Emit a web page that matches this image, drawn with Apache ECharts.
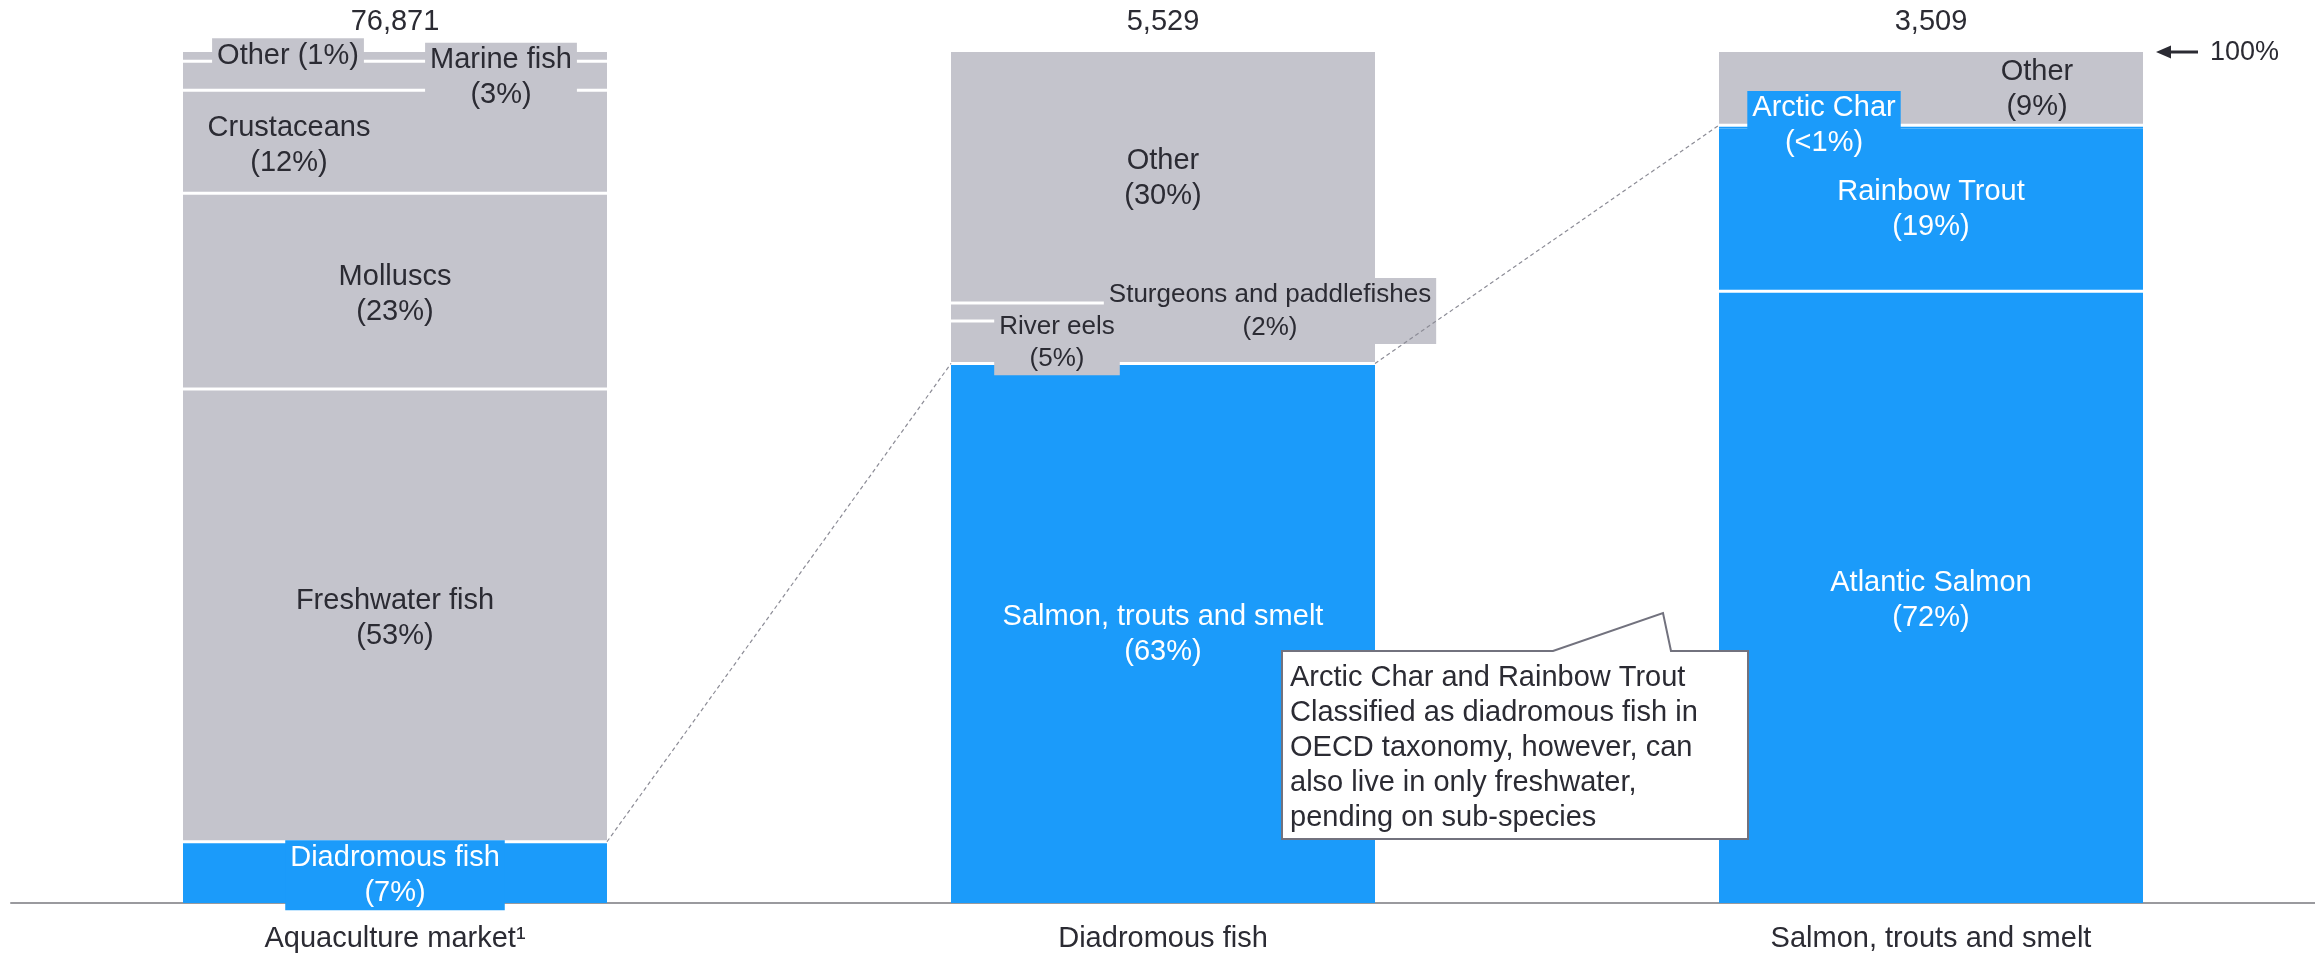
<!DOCTYPE html>
<html>
<head>
<meta charset="utf-8">
<script src="https://cdn.jsdelivr.net/npm/echarts@6/dist/echarts.min.js"></script>
<style>
  html, body { margin: 0; padding: 0; background: #ffffff; }
  #main { width: 2315px; height: 956px; }
</style>
</head>
<body>
<div id="main"></div>
<script>
// ---------------- DATA ----------------
const categories = ['Aquaculture market\u00B9', 'Diadromous fish', 'Salmon, trouts and smelt'];
const totals = ['76,871', '5,529', '3,509'];

// bar 1: aquaculture market (bottom to top)
const aquacultureNames  = ['Diadromous fish', 'Freshwater fish', 'Molluscs', 'Crustaceans', 'Marine fish', 'Other'];
const aquacultureShares = [7.2, 53.2, 23.0, 12.1, 3.4, 1.1];
const aquacultureLabels = ['7%', '53%', '23%', '12%', '3%', '1%'];
const aquacultureHighlight = [true, false, false, false, false, false];

// bar 2: diadromous fish (bottom to top)
const diadromousNames  = ['Salmon, trouts and smelt', 'River eels', 'Sturgeons and paddlefishes', 'Other'];
const diadromousShares = [63.4, 5.0, 2.1, 29.5];
const diadromousLabels = ['63%', '5%', '2%', '30%'];
const diadromousHighlight = [true, false, false, false];

// bar 3: salmon, trouts and smelt (bottom to top)
const salmonidNames  = ['Atlantic Salmon', 'Rainbow Trout', 'Arctic Char', 'Other'];
const salmonidShares = [71.9, 19.1, 0.4, 8.6];
const salmonidLabels = ['72%', '19%', '<1%', '9%'];
const salmonidHighlight = [true, true, true, false];

const noteText = 'Arctic Char and Rainbow Trout\nClassified as diadromous fish in\nOECD taxonomy, however, can\nalso live in only freshwater,\npending on sub-species';

// ---------------- STYLE ----------------
const FONT = '"Liberation Sans", Arial, sans-serif';
const GREY = '#C4C4CC';
const BLUE = '#1B9BFA';
const TEXT = '#2B2B33';
const BAR_WIDTH = 424;
const GAP = 1.5; // half of white separator between stacked segments

// label layout per segment (offset from segment centre, background box, font, drawing order)
const labelStyle = [
  [ {dx: 0, dy: 3, box: true}, {dx: 0, dy: 3}, {dx: 0, dy: 3}, {dx: -106, dy: 4},
    {dx: 106, dy: 2, box: true}, {dx: -107, dy: -1, box: true, oneLine: true} ],
  [ {dx: 0, dy: 1}, {dx: -106, dy: 1, box: true, fs: 26, lh: 32, z2: 7},
    {dx: 107, dy: -1, box: true, fs: 26, lh: 33}, {dx: 0, dy: 1} ],
  [ {dx: 0, dy: 3}, {dx: 0, dy: 0}, {dx: -107, dy: -1, box: true, joinBelow: true}, {dx: 106, dy: 1} ]
];

const bars = [
  {names: aquacultureNames, shares: aquacultureShares, labels: aquacultureLabels, hl: aquacultureHighlight},
  {names: diadromousNames, shares: diadromousShares, labels: diadromousLabels, hl: diadromousHighlight},
  {names: salmonidNames, shares: salmonidShares, labels: salmonidLabels, hl: salmonidHighlight}
];

// build [category, start, end] items from the arrays
const segData = [];
const segMeta = [];
bars.forEach((b, bi) => {
  let cum = 0;
  const n = b.shares.length;
  b.shares.forEach((s, si) => {
    segData.push([bi, cum, cum + s]);
    const st = labelStyle[bi][si];
    const nextJoin = si < n - 1 && labelStyle[bi][si + 1].joinBelow;
    segMeta.push({
      bi: bi, si: si,
      blue: b.hl[si],
      text: st.oneLine ? b.names[si] + ' (' + b.labels[si] + ')' : b.names[si] + '\n(' + b.labels[si] + ')',
      st: st,
      gapBelow: si > 0 && !st.joinBelow,
      gapAbove: si < n - 1 && !nextJoin,
      isTop: si === n - 1
    });
    cum += s;
  });
});

function renderSegment(params, api) {
  const m = segMeta[params.dataIndex];
  const ci = api.value(0);
  const pb = api.coord([ci, api.value(1)]);
  const pt = api.coord([ci, api.value(2)]);
  const fill = m.blue ? BLUE : GREY;
  const yb = pb[1] - (m.gapBelow ? GAP : 0);
  const yt = pt[1] + (m.gapAbove ? GAP : 0);
  const cx = pb[0];
  const cy = (pb[1] + pt[1]) / 2;
  const st = m.st;
  const children = [
    {type: 'rect', z2: 0, shape: {x: cx - BAR_WIDTH / 2, y: yt, width: BAR_WIDTH, height: Math.max(0, yb - yt)}, style: {fill: fill}},
    {type: 'text', z2: st.z2 || 5, x: cx + st.dx, y: cy + st.dy,
     style: {
       text: m.text, fill: m.blue ? '#ffffff' : TEXT,
       fontFamily: FONT, fontSize: st.fs || 29, lineHeight: st.lh || 35,
       align: 'center', verticalAlign: 'middle',
       backgroundColor: st.box ? fill : null,
       padding: st.box ? [0, 5] : 0
     }}
  ];
  if (m.isTop) {
    children.push({type: 'text', z2: 5, x: cx, y: pt[1] - 30,
      style: {text: totals[m.bi], fill: TEXT, fontFamily: FONT, fontSize: 29, align: 'center', verticalAlign: 'middle'}});
  }
  return {type: 'group', children: children};
}

const chart = echarts.init(document.getElementById('main'), null, {renderer: 'canvas'});
chart.setOption({
  animation: false,
  backgroundColor: '#ffffff',
  grid: {left: 11, right: 0, top: 52, bottom: 52, containLabel: false},
  xAxis: {
    type: 'category', data: categories, offset: 1,
    axisLine: {show: true, lineStyle: {color: '#9A9A9E', width: 2}},
    axisTick: {show: false},
    axisLabel: {color: TEXT, fontFamily: FONT, fontSize: 29, lineHeight: 35, margin: 17}
  },
  yAxis: {type: 'value', min: 0, max: 100, show: false, splitLine: {show: false}},
  series: [{
    type: 'custom', data: segData, encode: {x: 0, y: [1, 2]},
    renderItem: renderSegment, clip: false, silent: true, animation: false
  }]
});

// ---------------- ANNOTATIONS ----------------
function px(ci, v) { return chart.convertToPixel({gridIndex: 0}, [ci, v]); }
const half = BAR_WIDTH / 2;
const sum = (arr, n) => arr.slice(0, n).reduce((a, b) => a + b, 0);
const a1 = px(0, sum(aquacultureShares, 1));
const b1 = px(1, sum(diadromousShares, 1));
const c1 = px(2, sum(salmonidShares, 3));
const topY = px(2, 100)[1];

const dashStyle = {stroke: '#8C8C96', lineWidth: 1.2, lineDash: [4, 3]};
chart.setOption({
  graphic: [
    {type: 'line', z: 50, shape: {x1: a1[0] + half, y1: a1[1], x2: b1[0] - half, y2: b1[1]}, style: dashStyle},
    {type: 'line', z: 50, shape: {x1: b1[0] + half, y1: b1[1], x2: c1[0] - half, y2: c1[1]}, style: dashStyle},
    // 100% arrow
    {type: 'line', z: 50, shape: {x1: 2168, y1: topY, x2: 2198, y2: topY}, style: {stroke: TEXT, lineWidth: 3}},
    {type: 'polygon', z: 50, shape: {points: [[2156, topY], [2171, topY - 6.5], [2171, topY + 6.5]]}, style: {fill: TEXT}},
    {type: 'text', z: 50, x: 2210, y: topY + 1, style: {text: '100%', fill: TEXT, fontFamily: FONT, fontSize: 27, verticalAlign: 'middle', align: 'left'}},
    // callout
    {type: 'polygon', z: 100, shape: {points: [[1282, 651], [1553, 651], [1663, 613], [1671, 651], [1748, 651], [1748, 839], [1282, 839]]},
     style: {fill: '#ffffff', stroke: '#72727E', lineWidth: 2}},
    {type: 'text', z: 101, x: 1290, y: 660,
     style: {text: noteText, fill: TEXT, fontFamily: FONT, fontSize: 29, lineHeight: 35, align: 'left', verticalAlign: 'top'}}
  ]
});
</script>
</body>
</html>
